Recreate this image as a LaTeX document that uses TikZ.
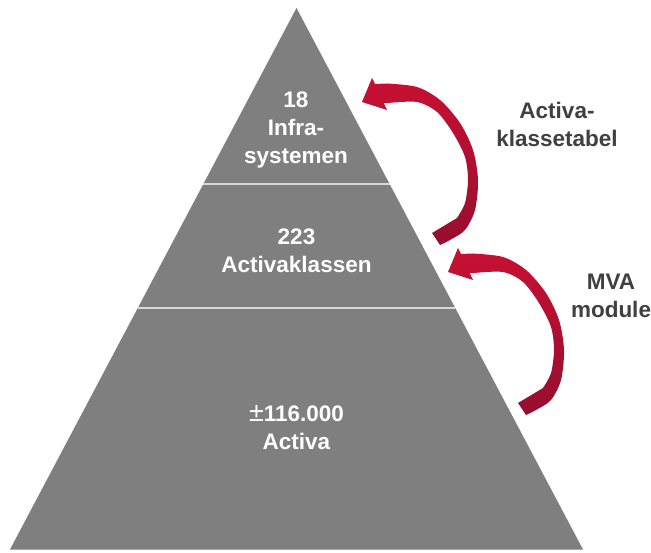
\documentclass[tikz,border=0pt]{standalone}
\usepackage{fontspec}
\setmainfont{Liberation Sans}
\usetikzlibrary{calc}
\definecolor{pyr}{HTML}{7F7F7F}
\definecolor{sep}{HTML}{D9D9D9}
\definecolor{lab}{HTML}{404040}
\definecolor{redtop}{RGB}{200,16,50}
\definecolor{redbot}{RGB}{150,14,48}
\tikzset{
  layertext/.style={text=white, font=\bfseries\fontsize{22.5}{28}\selectfont, align=center, inner sep=0pt},
  sidetext/.style={text=lab, font=\bfseries\fontsize{22.5}{28}\selectfont, align=center, inner sep=0pt},
  sepline/.style={draw=sep, line width=1.5pt},
  pyramid/.style={fill=pyr, draw=none},
  curvedarrow/.pic={
    \shade[top color=redtop, bottom color=redbot]
      (0,0) -- (10,-24) -- (13,-18)
      -- plot[smooth] coordinates {(25,-18.5) (55,-15) (78,-2) (98,21) (111,48) (116,78) (113,108) (103,128) (88,138) (78,143)}
      -- (70,131)
      -- plot[smooth] coordinates {(95,116) (103,101) (106,78) (103,55) (91,31) (75,10) (55,0) (26,1)}
      -- (21.7,1) -- (25,8) -- cycle;
  }
}
\begin{document}
\begin{tikzpicture}[x=1pt, y=-1pt]
  \fill[white] (0,0) rectangle (651,553);
  \useasboundingbox (0,0) rectangle (651,553);

  \coordinate (apex) at (296.5,8);
  \coordinate (bl) at (10,549.5);
  \coordinate (br) at (583,549.5);
  \fill[pyramid] (apex) -- (br) -- (bl) -- cycle;

  \coordinate (s1l) at ($(apex)!0.325!(bl)$);
  \coordinate (s1r) at ($(apex)!0.325!(br)$);
  \coordinate (s2l) at ($(apex)!0.554!(bl)$);
  \coordinate (s2r) at ($(apex)!0.554!(br)$);
  \draw[sepline] (s1l) -- (s1r);
  \draw[sepline] (s2l) -- (s2r);

  \node[layertext] (top) at (296,130) {18\\Infra-\\systemen};
  \node[layertext] (mid) at (296.5,251) {223\\Activaklassen};
  \node[layertext] (bot) at (296.5,427.5) {{\mdseries\fontsize{27}{28}\selectfont ±}116.000\\Activa};

  \node[sidetext] (lab1) at (557,124) {Activa-\\klassetabel};
  \node[sidetext] (lab2) at (611,296) {MVA\\module};

  \coordinate (a1tip) at (362,102);
  \coordinate (a2tip) at (448,272);
  \pic at (a1tip) {curvedarrow};
  \pic at (a2tip) {curvedarrow};
\end{tikzpicture}
\end{document}
